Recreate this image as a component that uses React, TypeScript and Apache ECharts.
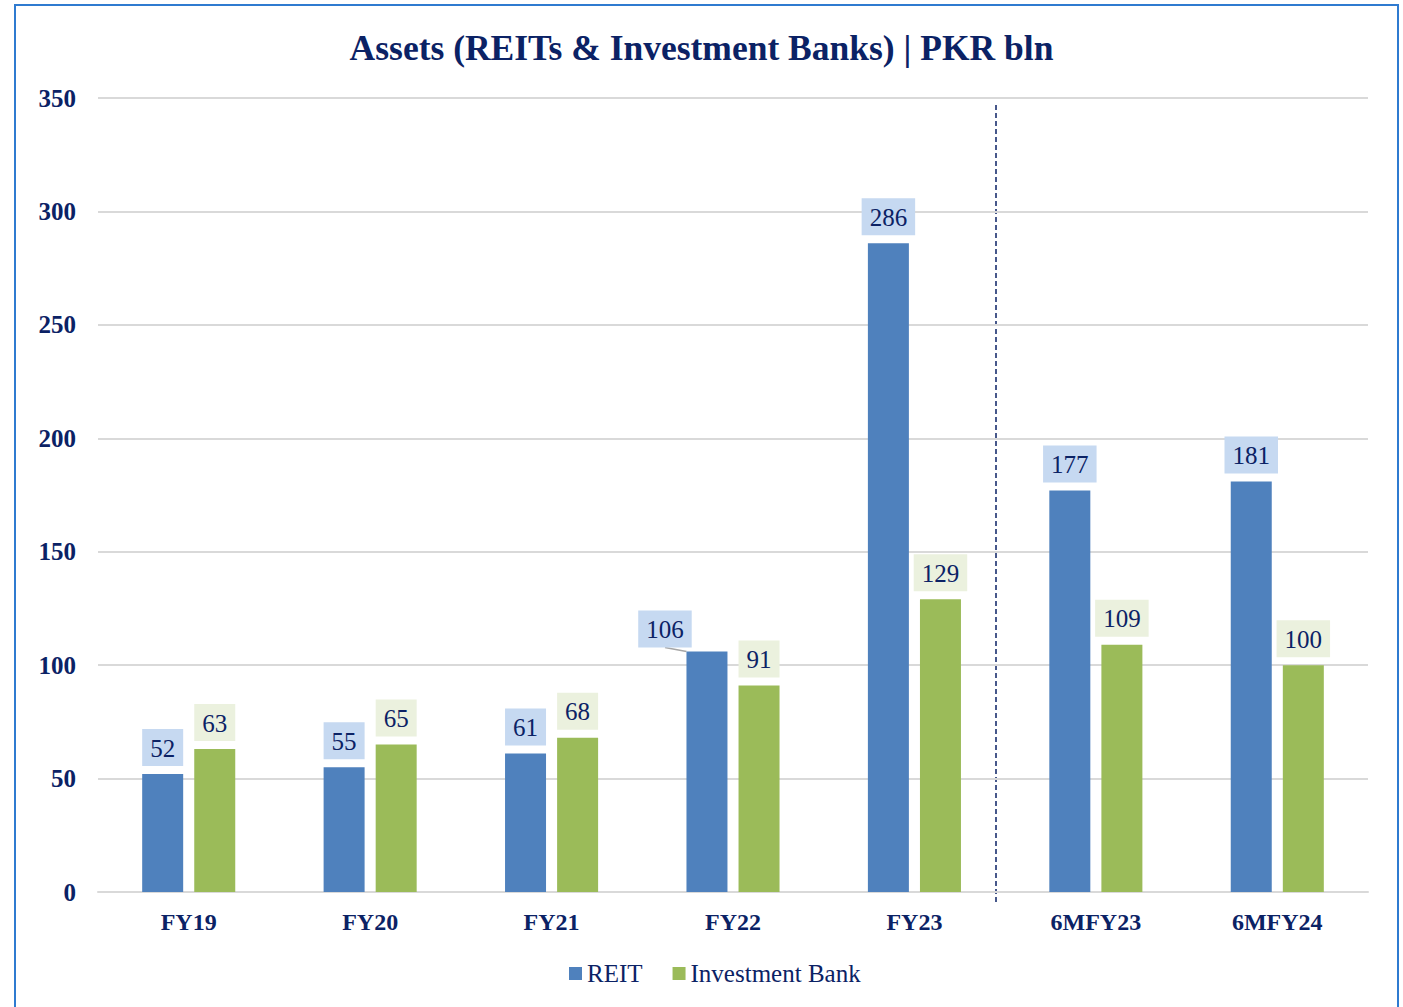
import React, { useEffect, useRef } from "react";
import * as echarts from "echarts";

const categories = ["FY19", "FY20", "FY21", "FY22", "FY23", "6MFY23", "6MFY24"];
const reitValues = [52, 55, 61, 106, 286, 177, 181];
const ibValues = [63, 65, 68, 91, 129, 109, 100];
const seriesNames = ["REIT", "Investment Bank"];
const titleText = "Assets (REITs & Investment Banks) | PKR bln";
const movedLabelIndex = 3;

const NAVY = "#0B2265";
const FONT = "'Liberation Serif', 'Times New Roman', serif";

export default function App() {
  const ref = useRef<HTMLDivElement>(null);
  useEffect(() => {
    if (!ref.current) return;
    const chart = echarts.init(ref.current, undefined, { renderer: "svg" });
    const labelBase = {
      show: true,
      position: "top",
      distance: 8,
      color: NAVY,
      fontFamily: FONT,
      fontSize: 25,
      lineHeight: 26,
      padding: [6, 8, 5, 8],
    };
    chart.setOption({
      animation: false,
      backgroundColor: "#ffffff",
      textStyle: { fontFamily: FONT },
      title: {
        text: titleText,
        left: "center",
        top: 25,
        textStyle: { fontFamily: FONT, fontWeight: "bold", fontSize: 35.5, color: NAVY },
      },
      grid: { left: 98, right: 35, top: 98, bottom: 115, containLabel: false },
      legend: {
        data: seriesNames,
        bottom: 16,
        left: 564,
        icon: "rect",
        itemWidth: 13,
        itemHeight: 13,
        itemGap: 30,
        itemStyle: {},
        textStyle: { fontFamily: FONT, fontSize: 25, color: NAVY, padding: [2, 0, 0, 0] },
      },
      xAxis: {
        type: "category",
        data: categories,
        axisLine: { show: true, lineStyle: { color: "#d9d9d9", width: 2 } },
        axisTick: { show: false },
        axisLabel: { fontFamily: FONT, fontWeight: "bold", fontSize: 24, color: NAVY, margin: 18 },
      },
      yAxis: {
        type: "value",
        min: 0,
        max: 350,
        interval: 50,
        axisLine: { show: false },
        axisTick: { show: false },
        splitLine: { lineStyle: { color: "#d9d9d9", width: 2 } },
        axisLabel: { fontFamily: FONT, fontWeight: "bold", fontSize: 25, color: NAVY, margin: 22 },
      },
      series: [
        {
          name: seriesNames[0],
          type: "bar",
          data: reitValues.map((v, i) =>
            i === movedLabelIndex
              ? { value: v, labelLine: { show: true, lineStyle: { color: "#a6a6a6", width: 1.5 } } }
              : { value: v, labelLine: { show: false } }
          ),
          barWidth: 41,
          barGap: "27%",
          itemStyle: { color: "#4F81BD" },
          label: { ...labelBase, backgroundColor: "#C6D9F1" },
          labelLine: { show: false },
          labelLayout: (p: any) => (p.dataIndex === movedLabelIndex ? { dx: -42, dy: 4 } : {}),
        },
        {
          name: seriesNames[1],
          type: "bar",
          data: ibValues,
          barWidth: 41,
          itemStyle: { color: "#9BBB59" },
          label: { ...labelBase, backgroundColor: "#EBF1DE" },
        },
      ],
      graphic: [
        {
          type: "rect",
          shape: { x: 15, y: 5, width: 1383, height: 1030 },
          style: { fill: "none", stroke: "#2F7BD0", lineWidth: 2 },
          silent: true,
        },
        {
          type: "line",
          shape: { x1: 996, y1: 105, x2: 996, y2: 905 },
          style: { stroke: NAVY, lineWidth: 1.5, lineDash: [5, 3] },
          silent: true,
        },
      ],
    });
    return () => chart.dispose();
  }, []);
  return (
    <div
      ref={ref}
      style={{ position: "fixed", left: 0, top: 0, width: 1403, height: 1007 }}
    />
  );
}
